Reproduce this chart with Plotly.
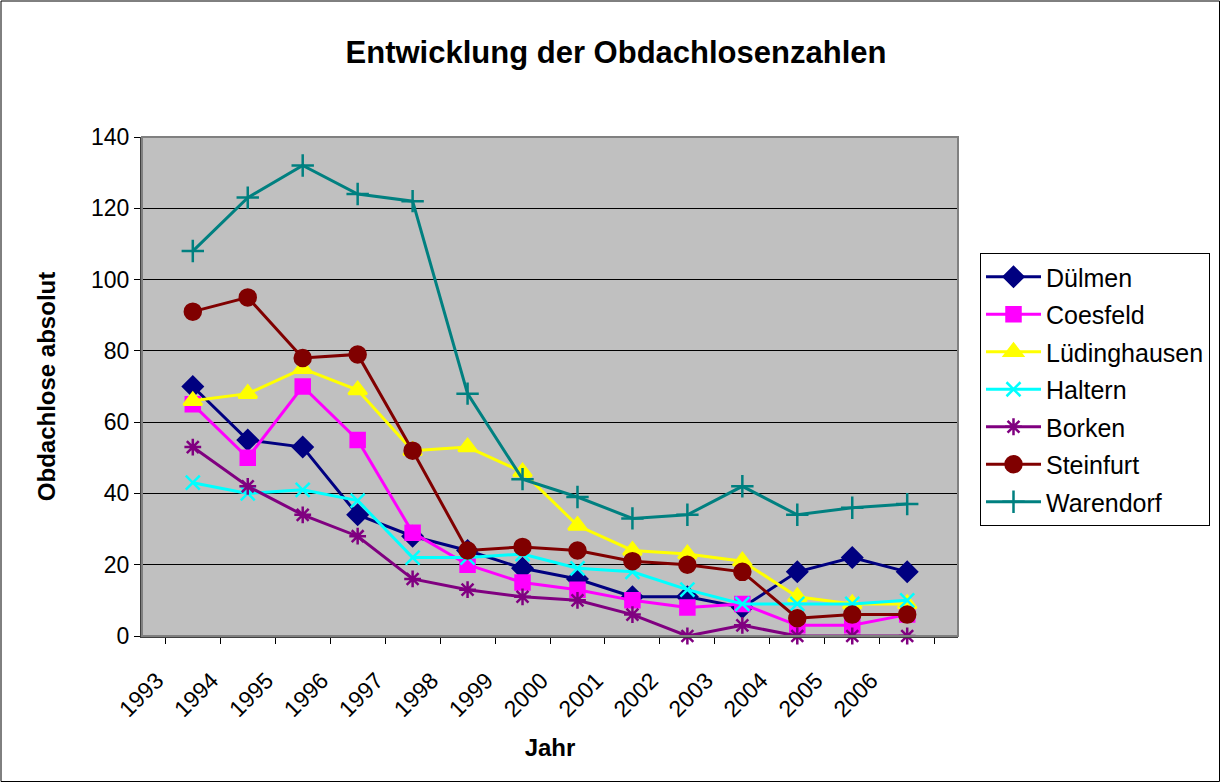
import plotly.graph_objects as go

years = [str(y) for y in range(1993, 2007)]

duelmen = [70, 55, 53, 34, 28, 24, 19, 16, 11, 11, 8, 18, 22, 18]
coesfeld = [65, 50, 70, 55, 29, 20, 15, 13, 10, 8, 9, 3, 3, 6]
luedinghausen = [66, 68, 75, 69, 52, 53, 46, 31, 24, 23, 21, 11, 9, 9]
haltern = [43, 40, 41, 38, 22, 22, 23, 19, 18, 13, 9, 9, 9, 10]
borken = [53, 42, 34, 28, 16, 13, 11, 10, 6, 0, 3, 0, 0, 0]
steinfurt = [91, 95, 78, 79, 52, 24, 25, 24, 21, 20, 18, 5, 6, 6]
warendorf = [108, 123, 132, 124, 122, 68, 44, 39, 33, 34, 42, 34, 36, 37]

series = [
    ("Dülmen", duelmen, "#000080", "diamond", 15),
    ("Coesfeld", coesfeld, "#FF00FF", "square", 14),
    ("Lüdinghausen", luedinghausen, "#FFFF00", "triangle-up", 16),
    ("Haltern", haltern, "#00FFFF", "x-thin-open", 14),
    ("Borken", borken, "#800080", "asterisk-open", 14),
    ("Steinfurt", steinfurt, "#800000", "circle", 16),
    ("Warendorf", warendorf, "#008080", "cross-thin-open", 16),
]

fig = go.Figure()
for i, (name, vals, color, sym, size) in enumerate(series):
    fig.add_trace(go.Scatter(
        x=years, y=vals, name=name, mode="lines+markers",
        line=dict(color=color, width=3),
        marker=dict(symbol=sym, size=size, color=color,
                    line=dict(color=color, width=2.5)),
        cliponaxis=False, legendgroup=f"g{i}",
    ))

W, H = 1221, 783
L, R, T, B = 142, 958, 137, 636
pw, ph = R - L, B - T

def px(x):
    return (x - L) / pw

def py(y):
    return (B - y) / ph

fig.update_layout(
    width=W, height=H,
    margin=dict(l=L, r=W - R, t=T, b=H - B, autoexpand=False),
    paper_bgcolor="white", plot_bgcolor="#C0C0C0",
    font=dict(family="Liberation Sans, Arial, sans-serif", size=23, color="black"),
    title=dict(text="<b>Entwicklung der Obdachlosenzahlen</b>", x=616 / W, xanchor="center",
               xref="container", y=1 - 52 / H, yanchor="middle", font=dict(size=31)),
    showlegend=True,
    legend=dict(x=px(980), y=py(253), xanchor="left", yanchor="top",
                bgcolor="white", bordercolor="black", borderwidth=1,
                font=dict(size=25), tracegroupgap=2, itemwidth=55),
    xaxis=dict(type="category", tickson="boundaries", ticks="outside", ticklen=6,
               tickcolor="black", tickangle=-45, showgrid=False, zeroline=False,
               showline=True, linecolor="#404040", linewidth=2,
               ticklabelstandoff=20, ticklabelshift=-36,
               title=dict(text="<b>Jahr</b>", standoff=18, font=dict(size=24)),
               tickfont=dict(size=23)),
    yaxis=dict(range=[0, 140], dtick=20, ticks="outside", ticklen=6, tickcolor="black",
               showgrid=True, gridcolor="black", gridwidth=1, zeroline=False,
               showline=True, linecolor="#404040", linewidth=2,
               title=dict(text="<b>Obdachlose absolut</b>", standoff=29, font=dict(size=24)),
               tickfont=dict(size=23)),
    shapes=[
        dict(type="rect", xref="paper", yref="paper", x0=0, x1=1, y0=0, y1=1,
             line=dict(color="#808080", width=2), layer="above"),
        dict(type="rect", xref="paper", yref="paper", x0=px(1), x1=px(1219.5),
             y0=py(781.5), y1=py(1), line=dict(color="black", width=1)),
    ],
)

fig.write_html("out.html", config={"displayModeBar": False},
               post_script="document.body.style.margin='0';")
